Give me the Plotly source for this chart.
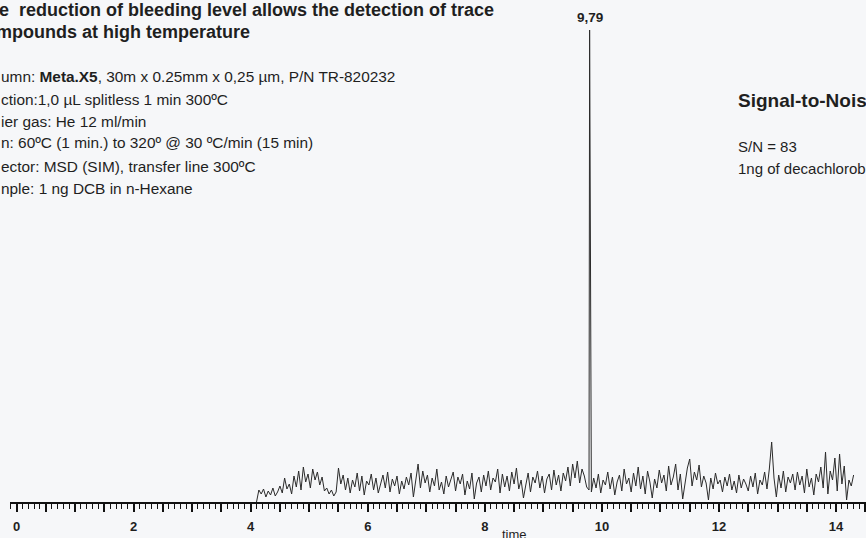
import plotly.graph_objects as go

# ---------------- data ----------------
t_start = 4.10          # min, first point of the baseline trace
t_step = 0.04           # min between samples
noise = [
    0, 12, 8, 13, 5, 11, 7, 14, 6, 10,
    16, 9, 24, 13, 18, 8, 26, 15, 31, 12,
    35, 20, 28, 14, 33, 22, 30, 17, 25, 11,
    14, 8, 12, 6, 10, 34, 18, 27, 12, 24,
    9, 22, 15, 29, 11, 26, 7, 21, 17, 28,
    12, 24, 9, 19, 27, 14, 30, 10, 23, 16,
    26, 8, 21, 13, 25, 17, 29, 5, 22, 38,
    14, 31, 19, 27, 10, 24, 16, 33, 12, 20,
    8, 26, 15, 22, 30, 11, 25, 18, 28, 7,
    21, 13, 29, 3, 19, 25, 10, 27, 16, 31,
    12, 24, 20, 33, 9, 28, 15, 26, 11, 30,
    18, 34, 13, 22, 4, 17, 29, 10, 25, 19,
    31, 14, 26, 9, 23, 28, 12, 32, 17, 27,
    11, 29, 21, 35, 16, 38, 24, 41, 19, 33,
    26, 15, 12, 10, 24, 14, 28, 9, 22, 17,
    30, 13, 25, 7, 20, 27, 11, 33, 18, 24,
    10, 29, 16, 35, 13, 26, 8, 31, 20, 4,
    23, 14, 32, 19, 27, 11, 36, 17, 25, 38,
    12, 28, 3, 21, 34, 43, 16, 30, 22, 37,
    15, 26, 19, 2, 24, 13, 29, 18, 22, 10,
    25, 16, 28, 12, 21, 9, 27, 14, 23, 18,
    11, 26, 15, 29, 8, 22, 17, 30, 13, 33,
    60, 24, 5, 27, 14, 31, 10, 25, 19, 28,
    12, 30, 17, 26, 9, 33, 15, 24, 7, 28,
    20, 35, 14, 50, 8, 31, 22, 44, 11, 48,
    18, 36, 2, 22, 16, 27,
]
peak_rt = 9.79
peak_height = 472
peak_label = "9,79"

major_ticks = [i * 0.5 for i in range(30)]
labelled_ticks = [0, 2, 4, 6, 8, 10, 12, 14]

title_lines = [
    "e  reduction of bleeding level allows the detection of trace",
    "mpounds at high temperature",
]
method_lines = [
    "umn: <b>Meta.X5</b>, 30m x 0.25mm x 0,25 µm, P/N TR-820232",
    "ction:1,0 µL splitless 1 min 300ºC",
    "ier gas: He 12 ml/min",
    "n: 60ºC (1 min.) to 320º @ 30 ºC/min (15 min)",
    "ector: MSD (SIM), transfer line 300ºC",
    "nple: 1 ng DCB in n-Hexane",
]
sn_title = "Signal-to-Noise"
sn_lines = ["S/N = 83", "1ng of decachlorob"]
x_title = "time"

# ---------------- build trace ----------------
times = [t_start + i * t_step for i in range(len(noise))]
pts = sorted(list(zip(times, noise)) + [(peak_rt, peak_height)])
xs = [p[0] for p in pts]
ys = [p[1] for p in pts]

W, H = 866, 538
L, R, T, B = 10, 0, 0, 36
PW, PH = W - L - R, H - T - B
x0_px, px_per_min = 16.5, 58.54
xr = [(L - x0_px) / px_per_min, (W - R - x0_px) / px_per_min]
BG = "#f6f7f9"


def pxx(p):
    return (p - L) / PW


def pyy(p):
    return (PH - (p - T)) / PH


FONT = "Liberation Sans, Arial, sans-serif"
INK = "#1f1f1f"

fig = go.Figure()
fig.add_trace(go.Scatter(x=xs, y=ys, mode="lines",
                         line=dict(color="#2b2b2b", width=1),
                         hoverinfo="skip", showlegend=False))

ann = []
for txt, yp, xp in zip(title_lines, [10, 32], [-3, -6]):
    ann.append(dict(text=f"<b>{txt}</b>", x=pxx(xp), y=pyy(yp), xref="paper", yref="paper",
                    xanchor="left", yanchor="middle", showarrow=False,
                    font=dict(family=FONT, size=18, color=INK)))
for txt, yp in zip(method_lines, [77, 99, 121, 143, 166, 188]):
    ann.append(dict(text=txt, x=pxx(-1.5), y=pyy(yp), xref="paper", yref="paper",
                    xanchor="left", yanchor="middle", showarrow=False,
                    font=dict(family=FONT, size=15.4, color=INK)))
ann.append(dict(text=f"<b>{sn_title}</b>", x=pxx(736), y=pyy(100), xref="paper", yref="paper",
                xanchor="left", yanchor="middle", showarrow=False,
                font=dict(family=FONT, size=19, color=INK)))
for txt, yp in zip(sn_lines, [147, 168]):
    ann.append(dict(text=txt, x=pxx(736), y=pyy(yp), xref="paper", yref="paper",
                    xanchor="left", yanchor="middle", showarrow=False,
                    font=dict(family=FONT, size=15, color=INK)))
ann.append(dict(text=f"<b>{peak_label}</b>", x=peak_rt, y=pyy(18), xref="x", yref="paper",
                xanchor="center", yanchor="middle", showarrow=False,
                font=dict(family=FONT, size=13.5, color=INK)))
ann.append(dict(text=x_title, x=8.5, y=pyy(534), xref="x", yref="paper",
                xanchor="center", yanchor="middle", showarrow=False,
                font=dict(family=FONT, size=13, color=INK)))

fig.update_layout(
    width=W, height=H,
    margin=dict(l=L, r=R, t=T, b=B, pad=0),
    paper_bgcolor=BG, plot_bgcolor=BG,
    annotations=ann,
    showlegend=False,
    xaxis=dict(range=xr, showgrid=False, zeroline=False,
               showline=True, linecolor="#111", linewidth=2,
               ticks="outside", ticklen=8, tickwidth=1.5, tickcolor="#111",
               tickvals=major_ticks,
               ticktext=[f"<b>{int(v)}</b>" if v in labelled_ticks else "" for v in major_ticks],
               tickfont=dict(family=FONT, size=13, color=INK),
               ticklabelstandoff=3,
               minor=dict(dtick=0.1, tick0=0, ticks="outside", ticklen=5,
                          tickwidth=1.2, tickcolor="#111", showgrid=False),
               fixedrange=True),
    yaxis=dict(range=[0, PH], visible=False, fixedrange=True),
)

fig.write_html(
    "out.html",
    config={"displayModeBar": False},
    post_script=("document.body.style.margin='0';document.body.style.padding='0';"
                 "document.body.style.overflow='hidden';"
                 f"document.body.style.background='{BG}';"),
)
